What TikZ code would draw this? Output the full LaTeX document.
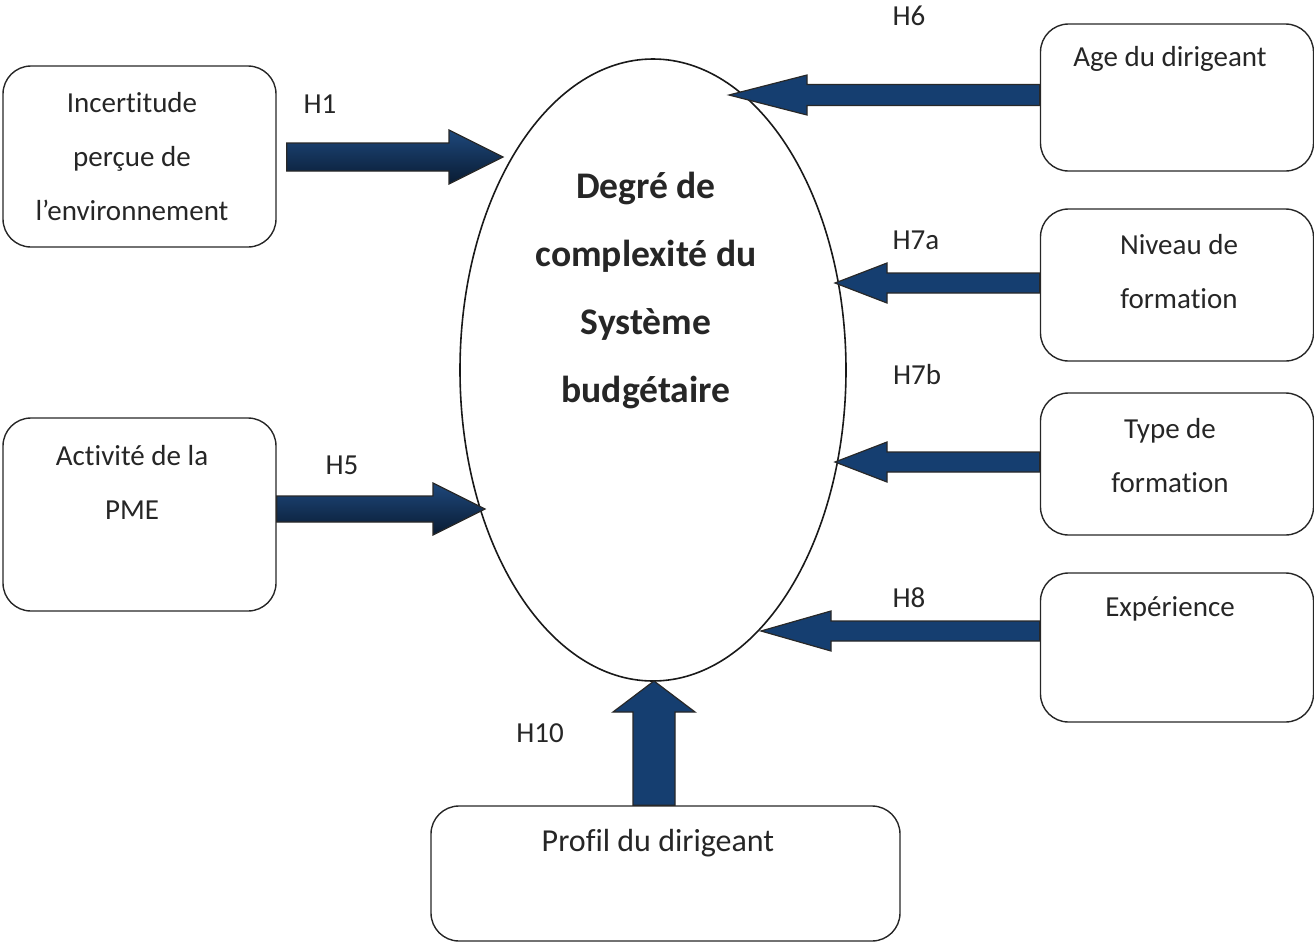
\documentclass[tikz,border=0pt]{standalone}
\usepackage{fontspec}
\setmainfont{Carlito}[Ligatures=NoCommon]
\usepackage{tikz}
\usetikzlibrary{shapes.geometric,calc}
\definecolor{arrowblue}{RGB}{21,62,112}
\definecolor{arrowlight}{RGB}{30,72,124}
\definecolor{arrowdark}{RGB}{9,27,50}
\definecolor{edgegray}{RGB}{40,40,40}

% block arrow: start, tip, shaft half width, head half width, head length
\newcommand{\harrow}[6][flatarrow]{%
  \draw[#1] let \p1=(#2), \p2=(#3), \n1={ifthenelse(\x2>\x1,1,-1)} in
    (\x1,{\y2+#4}) -- ({\x2-(\n1)*#6},{\y2+#4}) -- ({\x2-(\n1)*#6},{\y2+#5})
    -- (\p2) -- ({\x2-(\n1)*#6},{\y2-#5}) -- ({\x2-(\n1)*#6},{\y2-#4})
    -- (\x1,{\y2-#4}) -- cycle;}
\newcommand{\varrow}[6][flatarrow]{%
  \draw[#1] let \p1=(#2), \p2=(#3), \n1={ifthenelse(\y2>\y1,1,-1)} in
    ({\x2+#4},\y1) -- ({\x2+#4},{\y2-(\n1)*#6}) -- ({\x2+#5},{\y2-(\n1)*#6})
    -- (\p2) -- ({\x2-#5},{\y2-(\n1)*#6}) -- ({\x2-#4},{\y2-(\n1)*#6})
    -- ({\x2-#4},\y1) -- cycle;}

\begin{document}
\begin{tikzpicture}[
  x=0.5pt, y=-0.5pt,
  box/.style={rectangle,rounded corners=14pt,draw=black!85,line width=0.7pt,minimum width=136.5pt},
  txt/.style={align=center,inner sep=0pt,font=\fontsize{14.5}{27}\selectfont,text=black!85},
  hyp/.style={inner sep=0pt,font=\fontsize{14.5}{17}\selectfont,text=black!85},
  flatarrow/.style={draw=edgegray,line width=0.6pt,line join=miter,fill=arrowblue},
  shadearrow/.style={draw=edgegray,line width=0.6pt,line join=miter,top color=arrowlight,bottom color=arrowdark}
]
  \useasboundingbox (0,0) rectangle (1314,944);

  \node[ellipse,draw=black!90,line width=0.8pt,minimum width=193pt,minimum height=311pt,inner sep=0pt] (degre) at (653,370) {};
  \node[align=center,inner sep=0pt,font=\fontsize{18.8}{34}\bfseries\selectfont,text=black!85] (degre-t) at (646,290)
    {Degré de\\complexité du\\Système\\budgétaire};

  \node[box,minimum height=90.5pt] (incert) at (139.5,156.5) {};
  \node[txt] (incert-t) at (132,156.5) {Incertitude\\perçue de\\l’environnement};
  \node[box,minimum height=96.5pt] (activ) at (139.5,514.5) {};
  \node[txt] (activ-t) at (132,482.5) {Activité de la\\PME};

  \node[box,minimum height=73.5pt] (age) at (1177,97.5) {};
  \node[txt] (age-t) at (1170,59) {Age du dirigeant};
  \node[box,minimum height=76pt] (niveau) at (1177,285) {};
  \node[txt] (niveau-t) at (1179,272) {Niveau de\\formation};
  \node[box,minimum height=71pt] (type) at (1177,464) {};
  \node[txt] (type-t) at (1170,456) {Type de\\formation};
  \node[box,minimum height=74.5pt] (exper) at (1177,647.5) {};
  \node[txt] (exper-t) at (1170,609) {Expérience};

  \node[box,minimum width=234.5pt,minimum height=67.5pt] (profil) at (665.5,873.5) {};
  \node[txt,font=\fontsize{16}{27}\selectfont] (profil-t) at (658,843) {Profil du dirigeant};

  % tips on the ellipse
  \coordinate (tip1) at (503,157);
  \coordinate (tip5) at (485,509);
  \coordinate (tip6) at (729,95);
  \coordinate (tip7a) at (835,283);
  \coordinate (tip7b) at (835,462);
  \coordinate (tip8) at (761,631);
  \coordinate (tip10) at (654,681);

  \harrow[shadearrow]{[xshift=5pt]incert.east}{tip1}{7pt}{13.5pt}{27pt}
  \harrow[shadearrow]{activ.east}{tip5}{6.5pt}{13pt}{26pt}
  \harrow{age.west}{tip6}{5.25pt}{10pt}{39pt}
  \harrow{niveau.west}{tip7a}{5pt}{10pt}{26pt}
  \harrow{type.west}{tip7b}{5pt}{10pt}{26pt}
  \harrow{exper.west}{tip8}{5pt}{10pt}{35pt}
  \varrow{profil.north}{tip10}{10.5pt}{20.5pt}{15.5pt}

  \node[hyp] (h1) at (320,104) {H1};
  \node[hyp] (h5) at (342,465) {H5};
  \node[hyp] (h6) at (909,16) {H6};
  \node[hyp] (h7a) at (916,240) {H7a};
  \node[hyp] (h7b) at (917,375) {H7b};
  \node[hyp] (h8) at (909,598) {H8};
  \node[hyp] (h10) at (540,733) {H10};
\end{tikzpicture}
\end{document}
